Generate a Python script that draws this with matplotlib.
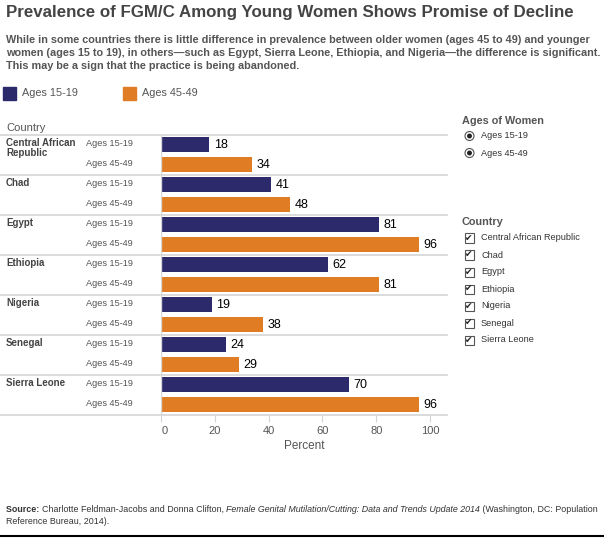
import matplotlib
matplotlib.use("Agg")
import matplotlib.pyplot as plt
import matplotlib.transforms as mtransforms
from matplotlib.patches import Rectangle, Ellipse
from matplotlib.lines import Line2D

plt.rcParams['font.family'] = ['Liberation Sans', 'DejaVu Sans']

# data
countries = ["Central African\nRepublic", "Chad", "Egypt", "Ethiopia",
             "Nigeria", "Senegal", "Sierra Leone"]
filter_countries = ["Central African Republic", "Chad", "Egypt", "Ethiopia",
                    "Nigeria", "Senegal", "Sierra Leone"]
groups = ["Ages 15-19", "Ages 45-49"]
young = [18, 41, 81, 62, 19, 24, 70]
old = [34, 48, 96, 81, 38, 29, 96]
xticks = [0, 20, 40, 60, 80, 100]

NAVY = "#2d2a6b"
ORANGE = "#e07d24"
GRID = "#d4d4d4"
GRAY = "#555555"
DARK = "#333333"

W, H = 604, 544
fig = plt.figure(figsize=(W / 100, H / 100), dpi=100)
fig.patch.set_facecolor("white")


def fx(px):
    return px / W


def fy(py):
    return 1 - py / H


# plot area in pixels
left, right, top, bottom = 161, 447, 134.5, 414.5
ax = fig.add_axes([fx(left), fy(bottom), fx(right - left), (bottom - top) / H])
block = 40
n = len(countries)
ax.set_ylim(n * block, 0)
ax.set_xlim(0, (right - left) / 2.69)

for i in range(n):
    y0 = i * block
    for j, (vals, col) in enumerate([(young, NAVY), (old, ORANGE)]):
        yc = y0 + 10 + 20 * j
        ax.barh(yc, vals[i], height=15, color=col, linewidth=0)
        ax.text(vals[i] + 1.6, yc, str(vals[i]), va="center", ha="left",
                fontsize=9, color="black")

for s in ax.spines.values():
    s.set_visible(False)
ax.set_yticks([])
ax.set_xticks(xticks)
ax.set_xticklabels([str(t) for t in xticks], fontsize=8, color=GRAY)
ax.tick_params(axis="x", length=5, color=GRID, pad=3)
# the "0" label sits a little right of its tick
shift = mtransforms.ScaledTranslation(4 / 100, 0, fig.dpi_scale_trans)
first = ax.get_xticklabels()[0]
first.set_transform(first.get_transform() + shift)
ax.set_xlabel("Percent", fontsize=8.5, color=GRAY, labelpad=3)
ax.axvline(0, color=GRID, lw=1)

# row separators spanning label area too
xmin = -left / (right - left)
for i in range(n + 1):
    ax.axhline(i * block, xmin=xmin, xmax=1, color=GRID, lw=1.2, clip_on=False)

# row labels
for i, c in enumerate(countries):
    y0 = top + i * block
    fig.text(fx(6), fy(y0 + 3.5), c, ha="left", va="top", fontsize=7,
             fontweight="bold", color="#444444", linespacing=1.05)
    for j, g in enumerate(groups):
        fig.text(fx(86), fy(y0 + 9.5 + 20 * j), g, ha="left", va="center",
                 fontsize=6.6, color=GRAY)
fig.text(fx(6), fy(128), "Country", ha="left", va="center", fontsize=8,
         color=GRAY)

# title and subtitle
fig.text(fx(6), fy(13), "Prevalence of FGM/C Among Young Women Shows Promise of Decline",
         ha="left", va="center", fontsize=12.2, fontweight="bold", color="#444444")
subtitle = ("While in some countries there is little difference in prevalence between older women (ages 45 to 49) and younger\n"
            "women (ages 15 to 19), in others\u2014such as Egypt, Sierra Leone, Ethiopia, and Nigeria\u2014the difference is significant.\n"
            "This may be a sign that the practice is being abandoned.")
fig.text(fx(6), fy(35), subtitle, ha="left", va="top", fontsize=7.8,
         fontweight="bold", color=GRAY, linespacing=1.35)

# top legend
for x0, g, col in [(3, groups[0], NAVY), (123, groups[1], ORANGE)]:
    fig.patches.append(Rectangle((fx(x0), fy(100)), fx(13), 13 / H, color=col,
                                 transform=fig.transFigure))
    fig.text(fx(x0 + 19), fy(93), g, ha="left", va="center", fontsize=7.8,
             color=GRAY)

# right filter panels
fig.text(fx(462), fy(121), "Ages of Women", ha="left", va="center",
         fontsize=7.8, fontweight="bold", color=GRAY)
for k, g in enumerate(groups):
    yy = 136 + 17 * k
    fig.patches.append(Ellipse((fx(469.5), fy(yy)), fx(9), 9 / H, fill=False,
                               edgecolor="#555555", lw=0.8,
                               transform=fig.transFigure))
    fig.patches.append(Ellipse((fx(469.5), fy(yy)), fx(3.5), 3.5 / H,
                               color="#222222", transform=fig.transFigure))
    fig.text(fx(481), fy(yy), g, ha="left", va="center", fontsize=6.6,
             color=DARK)

fig.text(fx(462), fy(222), "Country", ha="left", va="center",
         fontsize=7.8, fontweight="bold", color=GRAY)
for k, c in enumerate(filter_countries):
    yy = 238 + 17 * k
    fig.patches.append(Rectangle((fx(464.5), fy(yy + 4.5)), fx(9), 9 / H,
                                 fill=False, edgecolor="#555555", lw=0.8,
                                 transform=fig.transFigure))
    fig.text(fx(469), fy(yy), "\u2714", ha="center", va="center",
             fontsize=6.5, color="#222222", family="DejaVu Sans")
    fig.text(fx(481), fy(yy), c, ha="left", va="center", fontsize=6.6,
             color=DARK)

# source
fig.canvas.draw()
r = fig.canvas.get_renderer()
parts = [("Source: ", "bold", "normal"),
         ("Charlotte Feldman-Jacobs and Donna Clifton, ", "normal", "normal"),
         ("Female Genital Mutilation/Cutting: Data and Trends Update 2014", "normal", "italic"),
         (" (Washington, DC: Population", "normal", "normal")]
xpos = fx(6)
for txt, wt, st in parts:
    t = fig.text(xpos, fy(509), txt, ha="left", va="center", fontsize=6.4,
                 fontweight=wt, style=st, color=DARK)
    xpos = t.get_window_extent(r).x1 / W
fig.text(fx(6), fy(521), "Reference Bureau, 2014).", ha="left", va="center",
         fontsize=6.4, color=DARK)
fig.lines.append(Line2D([0, 1], [fy(536), fy(536)], color="black", lw=1.5,
                        transform=fig.transFigure))

fig.savefig("out.png", dpi=100, facecolor="white")
